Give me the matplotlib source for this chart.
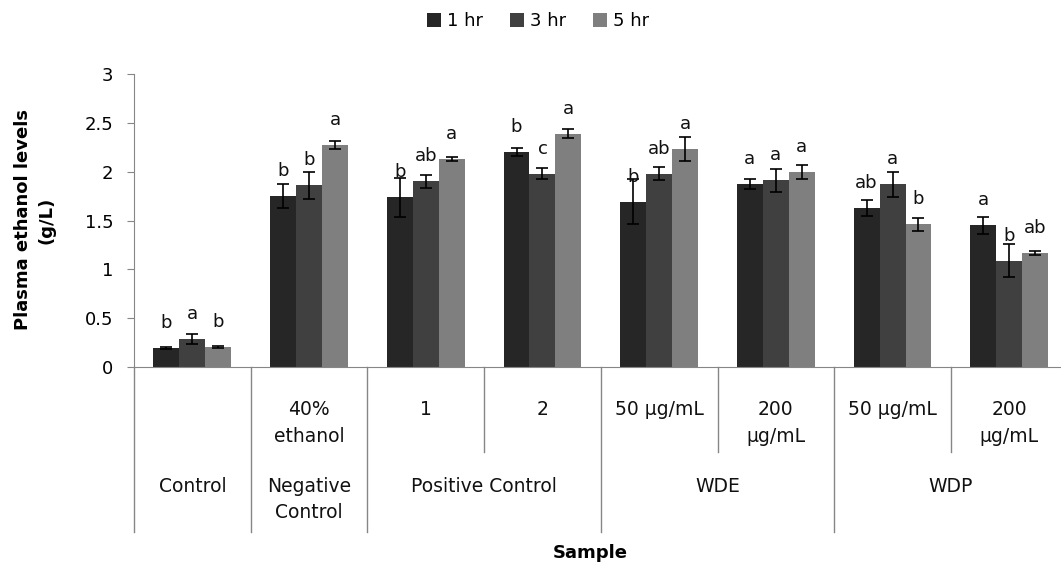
import numpy as np
import matplotlib
matplotlib.use("Agg")
import matplotlib.pyplot as plt
import matplotlib.transforms as mtransforms

# data
series = ["1 hr", "3 hr", "5 hr"]
colors = ["#262626", "#404040", "#7f7f7f"]
sub_labels = ["", "40%\nethanol", "1", "2", "50 µg/mL", "200\nµg/mL", "50 µg/mL", "200\nµg/mL"]
hr1 = [0.19, 1.75, 1.74, 2.20, 1.69, 1.87, 1.63, 1.45]
hr3 = [0.29, 1.86, 1.90, 1.98, 1.98, 1.91, 1.87, 1.09]
hr5 = [0.20, 2.27, 2.13, 2.39, 2.23, 2.00, 1.46, 1.17]
err1 = [0.01, 0.12, 0.20, 0.04, 0.23, 0.05, 0.08, 0.09]
err3 = [0.05, 0.14, 0.07, 0.06, 0.07, 0.12, 0.13, 0.17]
err5 = [0.01, 0.04, 0.025, 0.05, 0.12, 0.07, 0.07, 0.02]
let1 = ["b", "b", "b", "b", "b", "a", "ab", "a"]
let3 = ["a", "b", "ab", "c", "ab", "a", "a", "b"]
let5 = ["b", "a", "a", "a", "a", "a", "b", "ab"]
# top level groups: (label, first index, last index)
groups = [("Control", 0, 0), ("Negative\nControl", 1, 1), ("Positive Control", 2, 3),
          ("WDE", 4, 5), ("WDP", 6, 7)]

W, H = 1061, 571
fig = plt.figure(figsize=(W / 100, H / 100), dpi=100)
ax = fig.add_axes([134 / W, (H - 367) / H, (W - 134) / W, (367 - 74) / H])

x = np.arange(len(hr1))
bw = 1 / 4.5
vals = [hr1, hr3, hr5]
errs = [err1, err3, err5]
lets = [let1, let3, let5]
for i in range(3):
    xs = x + (i - 1) * bw
    ax.bar(xs, vals[i], bw, color=colors[i], label=series[i], zorder=2)
    ax.errorbar(xs, vals[i], yerr=errs[i], fmt="none", ecolor="black",
                elinewidth=1.2, capsize=4.5, capthick=1.2, zorder=3)
    for xx, v, t in zip(xs, vals[i], lets[i]):
        ax.annotate(t, (xx, v), xytext=(0, 18), textcoords="offset points",
                    ha="center", va="center", fontsize=13, color="#111111", zorder=4)

ax.set_xlim(-0.5, -0.5 + (W - 134) / 116.7)
ax.set_ylim(0, 3)
ax.set_yticks(np.arange(0, 3.01, 0.5))
ax.set_yticklabels(["0", "0.5", "1", "1.5", "2", "2.5", "3"], fontsize=13)
ax.set_xticks([])
for s in ["top", "right"]:
    ax.spines[s].set_visible(False)
for s in ["left", "bottom"]:
    ax.spines[s].set_color("#868686")
ax.tick_params(axis="y", length=5, color="#868686", pad=10)

# category axis below the plot
tr = mtransforms.blended_transform_factory(ax.transData, fig.transFigure)
fy = lambda py: (H - py) / H
for b in [-0.5, 0.5, 1.5, 3.5, 5.5, 7.5]:
    ax.plot([b, b], [fy(367), fy(532)], color="#868686", lw=1, transform=tr, clip_on=False)
for b in [2.5, 4.5, 6.5]:
    ax.plot([b, b], [fy(367), fy(452)], color="#868686", lw=1, transform=tr, clip_on=False)
for i, t in enumerate(sub_labels):
    fig.text(i, fy(400), t, transform=tr, ha="center", va="top", fontsize=13.5,
             linespacing=1.5, color="#111111")
for t, a, b in groups:
    fig.text((a + b) / 2, fy(477), t, transform=tr, ha="center", va="top", fontsize=13.5,
             linespacing=1.5, color="#111111")

fig.text(590 / W, fy(553), "Sample", ha="center", va="center", fontsize=13, fontweight="bold")
fig.text(35 / W, fy(220), "Plasma ethanol levels\n(g/L)", ha="center", va="center",
         rotation=90, fontsize=13, fontweight="bold", linespacing=1.4)

fig.legend(loc="center", bbox_to_anchor=(538 / W, fy(21)), ncol=3, frameon=False,
           fontsize=13, handlelength=0.8, handleheight=0.8, handletextpad=0.3,
           columnspacing=1.5)

fig.savefig("out.png", dpi=100)
